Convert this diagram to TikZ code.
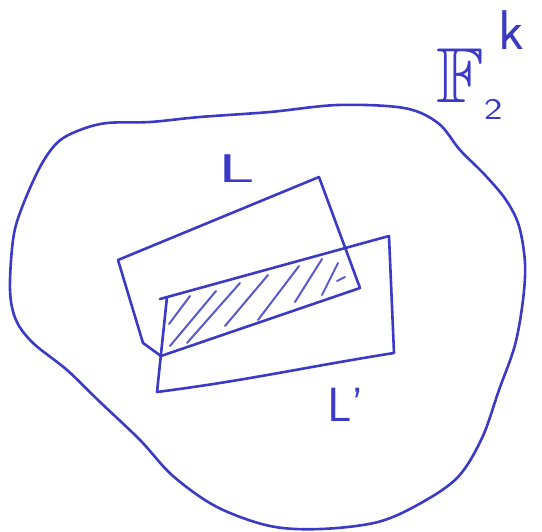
\documentclass[tikz,border=0pt]{standalone}
\usepackage{amssymb}
\definecolor{pen}{RGB}{58,58,198}
\tikzset{
  ink/.style={draw=pen, line width=2.6pt, line cap=round, line join=round},
  hatchline/.style={draw=pen!85, line width=2pt, line cap=round},
  handtext/.style={text=pen, inner sep=0pt, font=\sffamily}
}
\begin{document}
\begin{tikzpicture}[x=1pt,y=-1pt]
\useasboundingbox (0,0) rectangle (542,532);
% outer blob
\draw[ink] plot[smooth cycle, tension=0.55] coordinates {
 (80,130) (107,123) (150,122) (200,117) (270,112) (338,105) (404,108)
 (438,123) (460,150) (485,175) (506,200) (519,226) (525,263) (523,300)
 (515,345) (499,390) (482,438) (458,477) (421,503) (378,522) (321,529)
 (270,526) (217,507) (173,476) (140,440) (100,402) (67,370) (33,343)
 (16,320) (10,290) (13,240) (21,210) (40,167) (58,142)};
% rectangle L
\coordinate (a1) at (118,260);
\coordinate (a2) at (319,177);
\coordinate (a3) at (360,288);
\coordinate (a4) at (161,356);
\coordinate (a5) at (143,343);
\draw[ink] (a1) -- (a2) -- (a3) -- (a4) -- (a5) -- cycle;
% rectangle L'
\coordinate (b1) at (167,297);
\coordinate (b2) at (389,236);
\coordinate (b3) at (394,353);
\coordinate (b4) at (157,392);
\draw[ink] (160,299) -- (b2) -- (b3) .. controls (300,368) and (250,380) .. (b4) -- (b1);
% hatching
\draw[hatchline] (169,324) -- (190,296);
\draw[hatchline] (170,346) -- (216,291);
\draw[hatchline] (187,343) -- (240,283);
\draw[hatchline] (225,326) -- (268,275);
\draw[hatchline] (258,320) -- (299,266);
\draw[hatchline] (295,302) -- (322,259);
\draw[hatchline] (322,295) -- (338,263);
\draw[hatchline] (337,281) -- (345,277);
% labels
\node[handtext, font=\sffamily\fontsize{40}{40}\selectfont, anchor=base west] (lab1) at (218,183) {\scalebox{1.8}[1]{L}};
\node[handtext, font=\sffamily\fontsize{48}{48}\selectfont, anchor=base west] (lab2) at (327,422) {L'};
\node[handtext, font=\fontsize{78}{78}\selectfont, anchor=base west] (labF) at (436,103) {$\mathbb{F}$};
\node[handtext, font=\sffamily\fontsize{30}{30}\selectfont, anchor=base west] (lab2s) at (484,120) {\scalebox{1.3}[1]{2}};
\node[handtext, font=\sffamily\fontsize{56}{56}\selectfont, anchor=base west] (labk) at (498,50) {k};
\end{tikzpicture}
\end{document}
